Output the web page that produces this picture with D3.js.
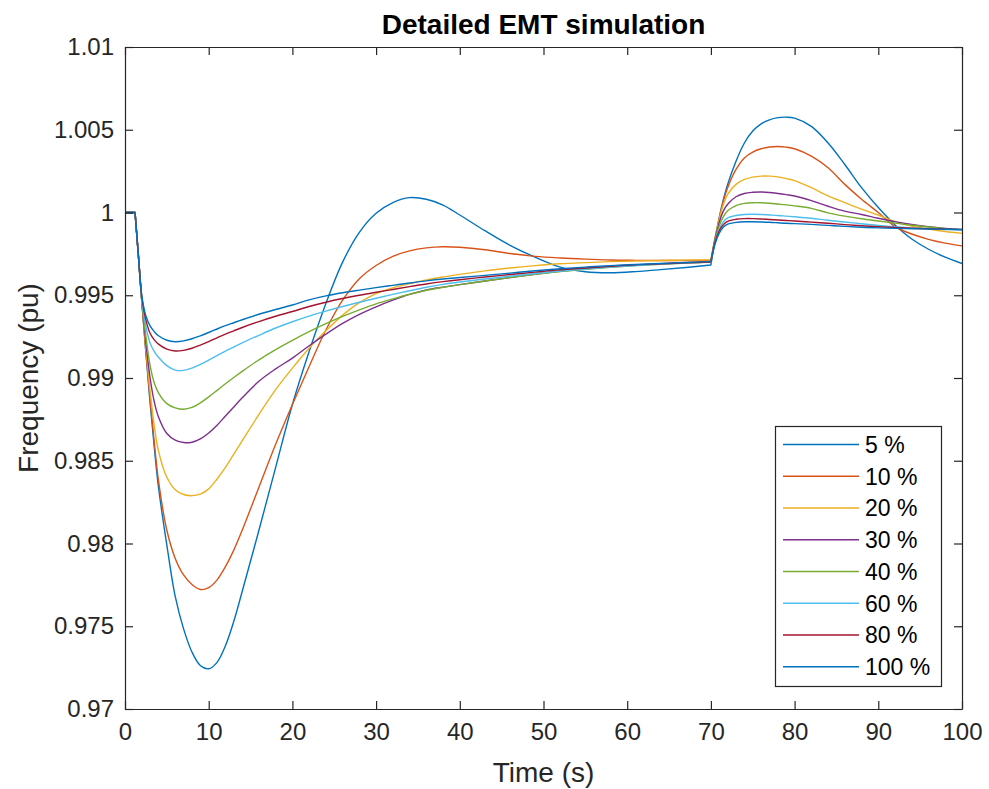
<!DOCTYPE html>
<html>
<head>
<meta charset="utf-8">
<script src="https://cdn.jsdelivr.net/npm/d3@7"></script>
<style>
  html, body { margin: 0; padding: 0; background: #fff; }
  svg { display: block; font-family: "Liberation Sans", Arial, Helvetica, sans-serif; }
</style>
</head>
<body>
<svg id="chart" width="989" height="789"></svg>
<script>
// Simulation time (s), shared by every run
const time = [0, 1.2, 1.6, 2, 2.5, 3, 3.5, 4,
  5, 6, 7, 8, 9, 10, 11, 12,
  13, 14, 16, 18, 20, 22, 24, 26, 28, 30, 32, 34, 36, 38, 40,
  43, 46, 49, 52, 55, 58, 61, 64, 67, 70,
  70.5, 71, 71.5, 72,
  73, 74, 75, 76, 77, 78, 79, 80,
  82, 84, 86, 88, 90, 92, 94, 96, 98, 100];

// Frequency (pu) for each share
const freq5 = [1, 1, 0.9974, 0.9947, 0.9915, 0.9885, 0.9858, 0.9834,
  0.9799, 0.9768, 0.97484, 0.97344, 0.97263, 0.97243, 0.97282, 0.97382,
  0.9753, 0.9771, 0.9808, 0.9846, 0.9884, 0.9916, 0.9945, 0.9970, 0.9988, 0.99995, 1.0006, 1.0009, 1.0008, 1.00045, 0.99985,
  0.9989, 0.99802, 0.9973, 0.9967, 0.99642, 0.99636, 0.99643, 0.99655, 0.99668, 0.99683,
  0.99835, 0.9997, 1.0008, 1.0017,
  1.0031, 1.0042, 1.00492, 1.00536, 1.0056, 1.00573, 1.00576, 1.0057,
  1.0052, 1.0042, 1.0029, 1.0015, 1.0003, 0.99925, 0.9984, 0.99778, 0.9973, 0.99692];

const freq10 = [1, 1, 0.9974, 0.9947, 0.9916, 0.9887, 0.9861, 0.9838,
  0.9808, 0.9791, 0.9781, 0.97752, 0.97722, 0.97733, 0.9778, 0.9786,
  0.9796, 0.9808, 0.9834, 0.9860, 0.9884, 0.9907, 0.9929, 0.9947, 0.9960, 0.9968, 0.99735, 0.99768, 0.99786, 0.99793, 0.9979,
  0.99775, 0.99752, 0.99735, 0.99725, 0.99718, 0.99713, 0.99711, 0.9971, 0.9971, 0.9971,
  0.99845, 0.99965, 1.0007, 1.0015,
  1.0026, 1.0033, 1.00365, 1.00385, 1.00396, 1.00399, 1.00395, 1.00385,
  1.0034, 1.0027, 1.0017, 1.0008, 1.0000, 0.99915, 0.9987, 0.99838, 0.99815, 0.99798];

const freq20 = [1, 1, 0.9974, 0.9947, 0.9918, 0.9892, 0.9871, 0.9856,
  0.9840, 0.98325, 0.98296, 0.98289, 0.98298, 0.9833, 0.9839, 0.9846,
  0.9854, 0.9862, 0.9878, 0.9893, 0.9906, 0.9918, 0.99285, 0.9938, 0.99455, 0.9951, 0.99545, 0.9957, 0.99593, 0.9961, 0.99626,
  0.99647, 0.99665, 0.99679, 0.9969, 0.99697, 0.99703, 0.99707, 0.9971, 0.99712, 0.99714,
  0.9985, 0.9996, 1.0005, 1.0011,
  1.0017, 1.0020, 1.00214, 1.0022, 1.0022, 1.00215, 1.00205, 1.00193,
  1.0015, 1.0010, 1.0006, 1.0002, 0.99985, 0.99945, 0.99918, 0.999, 0.99885, 0.99874];

const freq30 = [1, 1, 0.9974, 0.9947, 0.9921, 0.9900, 0.98855, 0.98765,
  0.98665, 0.98625, 0.9861, 0.98612, 0.98632, 0.98668, 0.98715, 0.9877,
  0.98825, 0.9888, 0.9898, 0.99055, 0.9912, 0.99195, 0.99265, 0.9933, 0.99385, 0.9943, 0.9947, 0.99505, 0.99532, 0.99549, 0.99564,
  0.99586, 0.99607, 0.99627, 0.99645, 0.9966, 0.99672, 0.99682, 0.9969, 0.99697, 0.99703,
  0.9984, 0.9994, 1.0001, 1.0005,
  1.00095, 1.00115, 1.00122, 1.00124, 1.00121, 1.00115, 1.00108, 1.001,
  1.00072, 1.00038, 1.00008, 0.99988, 0.99965, 0.99945, 0.99928, 0.99914, 0.99903, 0.99894];

const freq40 = [1, 1, 0.9974, 0.9947, 0.9925, 0.99075, 0.9897, 0.9891,
  0.98845, 0.9882, 0.98811, 0.98822, 0.9885, 0.98886, 0.98925, 0.98965,
  0.99003, 0.9904, 0.9911, 0.99172, 0.99228, 0.9928, 0.99328, 0.99372, 0.99412, 0.99448, 0.99478, 0.99506, 0.9953, 0.99548, 0.99564,
  0.99586, 0.99607, 0.99626, 0.99643, 0.99657, 0.99669, 0.99679, 0.99687, 0.99694, 0.997,
  0.9983, 0.9992, 0.99975, 1.0001,
  1.00042, 1.00055, 1.00059, 1.00059, 1.00056, 1.00051, 1.00046, 1.0004,
  1.00025, 0.99998, 0.99978, 0.99962, 0.99949, 0.99936, 0.99923, 0.99912, 0.99902, 0.99894];

const freq60 = [1, 1, 0.9974, 0.9948, 0.9931, 0.9921, 0.9916, 0.99125,
  0.99075, 0.99048, 0.99046, 0.9906, 0.99082, 0.99108, 0.99135, 0.99162,
  0.99187, 0.99212, 0.99258, 0.99302, 0.9934, 0.99374, 0.99404, 0.99432, 0.99458, 0.99482, 0.99505, 0.99527, 0.99548, 0.99566, 0.9958,
  0.99598, 0.99615, 0.99631, 0.99646, 0.99659, 0.9967, 0.9968, 0.99688, 0.99695, 0.997,
  0.9982, 0.9990, 0.99945, 0.99967,
  0.99982, 0.99988, 0.99989, 0.99988, 0.99985, 0.99982, 0.99978, 0.99974,
  0.99965, 0.99953, 0.99943, 0.99932, 0.99922, 0.99914, 0.99907, 0.99901, 0.99897, 0.99894];

const freq80 = [1, 1, 0.9974, 0.99495, 0.9935, 0.9927, 0.9923, 0.99205,
  0.99175, 0.99163, 0.99167, 0.9918, 0.99199, 0.9922, 0.99243, 0.99265,
  0.99285, 0.99305, 0.99341, 0.99373, 0.99402, 0.99432, 0.99458, 0.9948, 0.995, 0.99518, 0.99535, 0.99552, 0.99568, 0.99582, 0.99594,
  0.9961, 0.99625, 0.9964, 0.99654, 0.99665, 0.99675, 0.99684, 0.9969, 0.99696, 0.99701,
  0.9982, 0.9989, 0.99928, 0.99947,
  0.99959, 0.99963, 0.99963, 0.99961, 0.99958, 0.99955, 0.99952, 0.99949,
  0.99942, 0.99935, 0.99927, 0.9992, 0.99914, 0.99909, 0.99905, 0.99902, 0.999, 0.99898];

const freq100 = [1, 1, 0.9974, 0.9950, 0.99375, 0.99315, 0.9928, 0.99255,
  0.99228, 0.99219, 0.99224, 0.99237, 0.99255, 0.99275, 0.99296, 0.99316,
  0.99334, 0.99352, 0.99385, 0.99414, 0.99441, 0.99472, 0.99496, 0.99515, 0.99531, 0.99546, 0.9956, 0.99574, 0.99587, 0.99598, 0.99607,
  0.9962, 0.99634, 0.99648, 0.9966, 0.9967, 0.99679, 0.99686, 0.99692, 0.99698, 0.99703,
  0.9981, 0.99875, 0.99912, 0.9993,
  0.9994, 0.99944, 0.99944, 0.99943, 0.99941, 0.99938, 0.99935, 0.99933,
  0.99928, 0.99922, 0.99916, 0.99911, 0.99907, 0.99904, 0.99902, 0.999, 0.99899, 0.99898];

const seriesLabels = ["5 %", "10 %", "20 %", "30 %", "40 %", "60 %", "80 %", "100 %"];
const seriesValues = [freq5, freq10, freq20, freq30, freq40, freq60, freq80, freq100];
const seriesColors = ["#0072BD", "#D95319", "#EDB120", "#7E2F8E", "#77AC30", "#4DBEEE", "#A2142F", "#0072BD"];

const xTickValues = [0, 10, 20, 30, 40, 50, 60, 70, 80, 90, 100];
const yTickValues = [0.97, 0.975, 0.98, 0.985, 0.99, 0.995, 1, 1.005, 1.01];
const yTickLabels = ["0.97", "0.975", "0.98", "0.985", "0.99", "0.995", "1", "1.005", "1.01"];

// Instants where the response changes abruptly (disturbances)
const breakTimes = [1.2, 70];

const svg = d3.select("#chart");
const plot = { left: 125, right: 962, top: 47, bottom: 709 };
const axisColor = "#262626";

const x = d3.scaleLinear().domain([0, 100]).range([plot.left, plot.right]);
const y = d3.scaleLinear().domain([0.97, 1.01]).range([plot.bottom, plot.top]);

svg.append("defs").append("clipPath").attr("id", "plotClip")
  .append("rect")
  .attr("x", plot.left).attr("y", plot.top)
  .attr("width", plot.right - plot.left).attr("height", plot.bottom - plot.top);

// Curves: smooth between disturbances, sharp corners at them
const line = d3.line().x(d => x(d[0])).y(d => y(d[1])).curve(d3.curveCatmullRom.alpha(0.5));
function seriesPath(values) {
  const pts = time.map((t, i) => [t, values[i]]);
  const cuts = breakTimes.map(b => time.indexOf(b));
  const segs = [pts.slice(0, cuts[0] + 1), pts.slice(cuts[0], cuts[1] + 1), pts.slice(cuts[1])];
  return segs.map((s, k) => {
    const d = line(s);
    return k ? d.replace(/^M/, "L") : d;
  }).join("");
}

const curves = svg.append("g").attr("clip-path", "url(#plotClip)");
seriesValues.forEach((vals, i) => {
  curves.append("path")
    .attr("d", seriesPath(vals))
    .attr("fill", "none")
    .attr("stroke", seriesColors[i])
    .attr("stroke-width", 1.4)
    .attr("stroke-linejoin", "round");
});

// Axes: ticks point inward on all four sides
const tickLen = 8;
function styleAxis(g) {
  g.selectAll("path.domain").attr("stroke", axisColor).attr("stroke-width", 1.2);
  g.selectAll(".tick line").attr("stroke", axisColor).attr("stroke-width", 1.2);
  g.selectAll(".tick text").attr("fill", axisColor).attr("font-size", 24)
    .attr("font-family", "'Liberation Sans', Arial, Helvetica, sans-serif");
}

svg.append("g").attr("transform", `translate(0,${plot.bottom})`)
  .call(d3.axisBottom(x).tickValues(xTickValues).tickSizeInner(-tickLen).tickSizeOuter(0).tickPadding(14).tickFormat(d3.format("d")))
  .call(styleAxis);
svg.append("g").attr("transform", `translate(0,${plot.top})`)
  .call(d3.axisTop(x).tickValues(xTickValues).tickSizeInner(-tickLen).tickSizeOuter(0).tickFormat(""))
  .call(styleAxis);
svg.append("g").attr("transform", `translate(${plot.left},0)`)
  .call(d3.axisLeft(y).tickValues(yTickValues).tickSizeInner(-tickLen).tickSizeOuter(0).tickPadding(11)
    .tickFormat((d, i) => yTickLabels[i]))
  .call(styleAxis);
svg.append("g").attr("transform", `translate(${plot.right},0)`)
  .call(d3.axisRight(y).tickValues(yTickValues).tickSizeInner(-tickLen).tickSizeOuter(0).tickFormat(""))
  .call(styleAxis);

// Title and axis labels
svg.append("text")
  .attr("x", (plot.left + plot.right) / 2).attr("y", 34)
  .attr("text-anchor", "middle").attr("font-size", 28).attr("font-weight", "bold")
  .attr("fill", "#000")
  .text("Detailed EMT simulation");

svg.append("text")
  .attr("x", (plot.left + plot.right) / 2).attr("y", 782)
  .attr("text-anchor", "middle").attr("font-size", 28).attr("fill", axisColor)
  .text("Time (s)");

svg.append("text")
  .attr("transform", `translate(38,${(plot.top + plot.bottom) / 2}) rotate(-90)`)
  .attr("text-anchor", "middle").attr("font-size", 28).attr("fill", axisColor)
  .text("Frequency (pu)");

// Legend
const legend = { x: 775, y: 426, w: 166, h: 260, row: 31.75, firstRow: 18.5 };
const lg = svg.append("g");
lg.append("rect")
  .attr("x", legend.x + 0.5).attr("y", legend.y + 0.5)
  .attr("width", legend.w).attr("height", legend.h)
  .attr("fill", "#fff").attr("stroke", axisColor).attr("stroke-width", 1.2);
seriesLabels.forEach((label, i) => {
  const cy = legend.y + legend.firstRow + i * legend.row;
  lg.append("line")
    .attr("x1", legend.x + 8).attr("x2", legend.x + 84)
    .attr("y1", cy).attr("y2", cy)
    .attr("stroke", seriesColors[i]).attr("stroke-width", 1.4);
  lg.append("text")
    .attr("x", legend.x + 90).attr("y", cy).attr("dy", "0.36em")
    .attr("font-size", 23).attr("fill", "#000")
    .text(label);
});
</script>
</body>
</html>
